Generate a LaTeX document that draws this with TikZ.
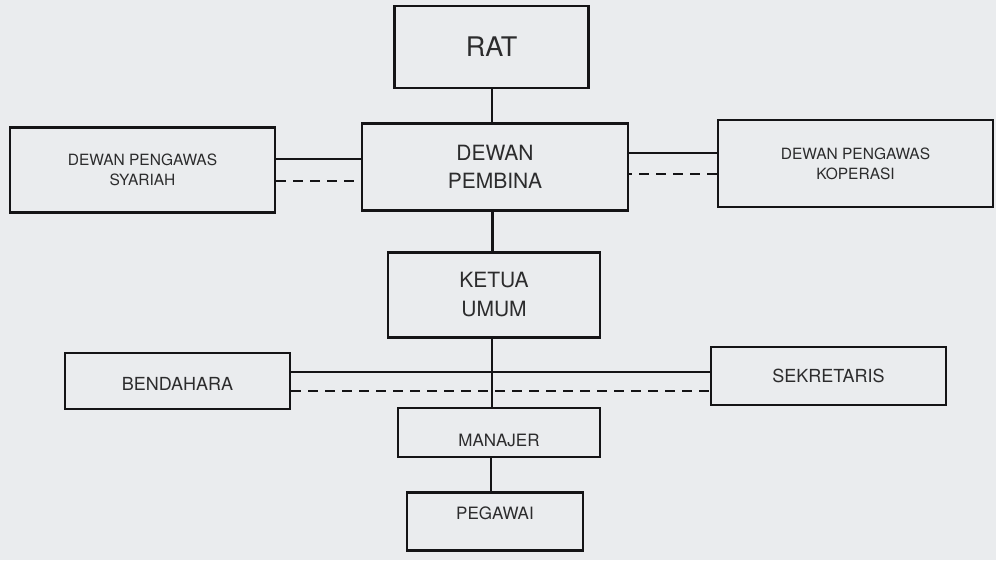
\documentclass[tikz,border=0pt]{standalone}
\usepackage{fontspec}
\setmainfont{TeX Gyre Heros}
\definecolor{paper}{RGB}{234,236,238}
\definecolor{ink}{RGB}{20,20,22}
\tikzset{
  box/.style={draw=ink, line width=2.7pt, fill=paper, inner sep=0pt, align=center, text=ink!90},
  link/.style={draw=ink, line width=2.6pt},
  dlink/.style={draw=ink, line width=2.8pt, dash pattern=on 10pt off 7pt}
}
\newcommand{\fsz}[2]{\fontsize{#1}{#2}\selectfont}
\begin{document}
\begin{tikzpicture}[x=1pt,y=-1pt]
\fill[paper] (0,0) rectangle (996,560);
\node[box, minimum width=194pt, minimum height=82pt, font=\fsz{27}{30}] (rat) at (491.5,47) {RAT};
\node[box, minimum width=266pt, minimum height=87pt, font=\fsz{21}{28}] (pemb) at (495,167) {DEWAN\\PEMBINA};
\node[box, minimum width=265pt, minimum height=85pt, font=\fsz{15.5}{20}] (syar) at (142.5,170) {DEWAN PENGAWAS\\SYARIAH};
\node[box, minimum width=275pt, minimum height=87pt, font=\fsz{15.5}{20}] (kop) at (855.5,163.5) {DEWAN PENGAWAS\\KOPERASI};
\node[box, minimum width=212pt, minimum height=85pt, font=\fsz{21}{29}] (ketua) at (494,295) {KETUA\\UMUM};
\node[box, minimum width=225pt, minimum height=56pt, font=\fsz{18}{20}] (bend) at (177.5,381) {\raisebox{-3pt}[13pt][0pt]{BENDAHARA}};
\node[box, minimum width=235pt, minimum height=58pt, font=\fsz{18}{20}] (sekr) at (828.5,376) {SEKRETARIS};
\node[box, minimum width=202pt, minimum height=49pt, font=\fsz{17}{20}] (man) at (499,432.5) {\raisebox{-8pt}[12pt][0pt]{MANAJER}};
\node[box, minimum width=176pt, minimum height=58pt, font=\fsz{17}{20}] (peg) at (495,521.5) {\raisebox{8pt}[12pt][0pt]{PEGAWAI}};
% vertical chain
\draw[link] ([xshift=0.5pt]rat.south) -- ([xshift=0.5pt]rat.south |- pemb.north);
\draw[link] ([xshift=-2.5pt]pemb.south) -- ([xshift=-2.5pt]pemb.south |- ketua.north);
\draw[link] ([xshift=-2pt]ketua.south) -- ([xshift=-2pt]ketua.south |- man.north);
\draw[link] ([xshift=-8pt]man.south) -- ([xshift=-8pt]man.south |- peg.north);
% side links
\draw[link] ([yshift=11pt]syar.east) -- ([yshift=11pt]syar.east -| pemb.west);
\draw[dlink] ([yshift=-11pt]syar.east) -- ([yshift=-11pt]syar.east -| pemb.west);
\draw[link] ([yshift=10.5pt]kop.west) -- ([yshift=10.5pt]kop.west -| pemb.east);
\draw[dlink] ([yshift=-10.5pt]kop.west) -- ([yshift=-10.5pt]kop.west -| pemb.east);
\draw[link] ([yshift=9pt]bend.east) -- ([yshift=9pt]bend.east -| sekr.west);
\draw[dlink] ([yshift=-10pt]bend.east) -- ([yshift=-10pt]bend.east -| sekr.west);
\end{tikzpicture}
\end{document}
